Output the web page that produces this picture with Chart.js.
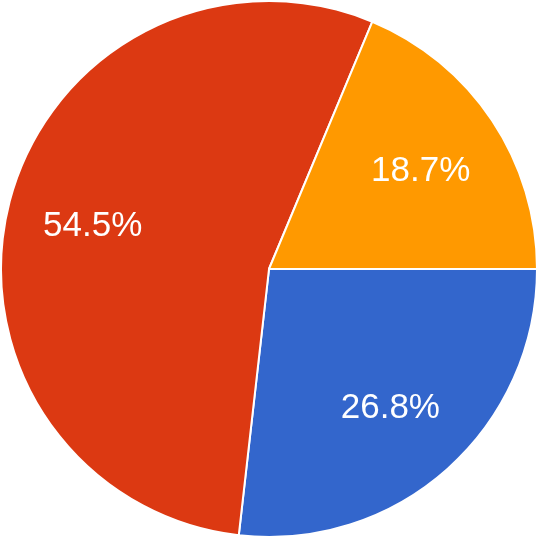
<!DOCTYPE html>
<html>
<head>
<meta charset="utf-8">
<style>
  html, body { margin: 0; padding: 0; background: #ffffff; }
  #wrap { width: 538px; height: 538px; }
</style>
<script src="https://cdn.jsdelivr.net/npm/chart.js@4/dist/chart.umd.min.js"></script>
</head>
<body>
<div id="wrap"><canvas id="pie" width="538" height="538"></canvas></div>
<script>
// Datos del gráfico
var categorias = ['Azul', 'Rojo', 'Naranja'];
var valores = [26.8, 54.5, 18.7];
var colores = ['#3366CC', '#DC3912', '#FF9900'];

// Etiquetas de porcentaje dentro de cada porción
var etiquetasPlugin = {
    id: 'etiquetas',
    afterDatasetsDraw: function(chart) {
        var ctx = chart.ctx;
        var meta = chart.getDatasetMeta(0);
        var total = valores.reduce(function(a, b) { return a + b; }, 0);
        var tam = 35;
        ctx.save();
        ctx.fillStyle = '#ffffff';
        ctx.font = tam + 'px "Liberation Sans", Arial, sans-serif';
        ctx.textAlign = 'center';
        ctx.textBaseline = 'alphabetic';
        meta.data.forEach(function(arc, i) {
            var p = arc.getProps(['startAngle', 'endAngle', 'outerRadius', 'x', 'y'], true);
            var mid = (p.startAngle + p.endAngle) / 2;
            var r = p.outerRadius * 0.68;
            var texto = (valores[i] / total * 100).toFixed(1) + '%';
            // centrar la altura de las cifras en el punto
            ctx.fillText(texto, p.x + Math.cos(mid) * r, p.y + Math.sin(mid) * r + tam * 0.36);
        });
        ctx.restore();
    }
};

new Chart(document.getElementById('pie'), {
    type: 'pie',
    data: {
        labels: categorias,
        datasets: [{
            data: valores,
            backgroundColor: colores,
            borderColor: '#ffffff',
            borderWidth: 2
        }]
    },
    options: {
        responsive: false,
        animation: false,
        rotation: 90,
        layout: { padding: 0 },
        plugins: {
            legend: { display: false },
            tooltip: { enabled: false }
        }
    },
    plugins: [etiquetasPlugin]
});
</script>
</body>
</html>
